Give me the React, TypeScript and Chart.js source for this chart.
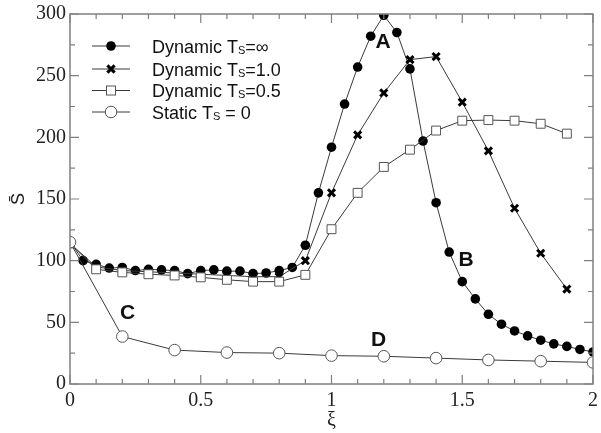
import React, { useEffect, useRef } from "react";
import { Chart, registerables } from "chart.js";

Chart.register(...registerables);

// Dynamic Ts = ∞ (filled circles)
const xInf = [0, 0.05, 0.1, 0.15, 0.2, 0.25, 0.3, 0.35, 0.4, 0.45, 0.5, 0.55, 0.6, 0.65, 0.7, 0.75, 0.8, 0.85, 0.9, 0.95, 1.0, 1.05, 1.1, 1.15, 1.2, 1.25, 1.3, 1.35, 1.4, 1.45, 1.5, 1.55, 1.6, 1.65, 1.7, 1.75, 1.8, 1.85, 1.9, 1.95, 2.0];
const yInf = [115.5, 100, 97, 94, 94.5, 92, 93, 92.5, 92, 89.5, 92, 92.5, 91.5, 91.5, 89.5, 90, 92, 94.5, 112.5, 155, 192, 227, 257, 282, 299, 285, 255.5, 197, 147, 107, 83, 69, 56.5, 48.5, 43, 39, 35.5, 32.5, 30.5, 28, 26];

// Dynamic Ts = 1.0 (crosses)
const x10 = [0, 0.1, 0.2, 0.3, 0.4, 0.5, 0.6, 0.7, 0.8, 0.9, 1.0, 1.1, 1.2, 1.3, 1.4, 1.5, 1.6, 1.7, 1.8, 1.9];
const y10 = [114, 95, 92, 91, 90, 89, 88, 87, 87, 100, 155, 202, 236, 263, 265.5, 228.5, 189, 142.5, 106, 77];

// Dynamic Ts = 0.5 (open squares)
const x05 = [0, 0.1, 0.2, 0.3, 0.4, 0.5, 0.6, 0.7, 0.8, 0.9, 1.0, 1.1, 1.2, 1.3, 1.4, 1.5, 1.6, 1.7, 1.8, 1.9];
const y05 = [114, 93, 90.5, 89, 88, 86.5, 84.5, 83, 83, 88.5, 125.5, 155, 176, 190, 205.5, 213.5, 214, 213.5, 211, 203];

// Static Ts = 0 (open circles)
const xStatic = [0, 0.2, 0.4, 0.6, 0.8, 1.0, 1.2, 1.4, 1.6, 1.8, 2.0];
const yStatic = [115, 38.5, 27.5, 25.5, 25, 23, 22.5, 21, 19.5, 18.5, 17.5];

const legendNames = ["Dynamic T", "Dynamic T", "Dynamic T", "Static T"];
const legendSuffix = ["=∞", "=1.0", "=0.5", " = 0"];

const annotations = [
  { text: "A", x: 1.197, y: 277 },
  { text: "B", x: 1.515, y: 100.5 },
  { text: "C", x: 0.22, y: 57.6 },
  { text: "D", x: 1.18, y: 35.7 },
];

const LINE = "#3a3a3a";
const FRAME = "#808080";
const SERIF = "'Liberation Serif', serif";
const SANS = "'Liberation Sans', Arial, sans-serif";

Chart.defaults.font.family = SERIF;
Chart.defaults.font.size = 20;
Chart.defaults.color = "#222";

const toPts = (xs: number[], ys: number[]) => xs.map((x, i) => ({ x, y: ys[i] }));

function drawMarker(ctx: CanvasRenderingContext2D, kind: string, x: number, y: number) {
  ctx.save();
  if (kind === "fcircle") {
    ctx.fillStyle = "#000";
    ctx.beginPath();
    ctx.arc(x, y, 4.8, 0, Math.PI * 2);
    ctx.fill();
  } else if (kind === "cross") {
    ctx.strokeStyle = "#000";
    ctx.lineWidth = 3;
    const r = 3.6;
    ctx.beginPath();
    ctx.moveTo(x - r, y - r);
    ctx.lineTo(x + r, y + r);
    ctx.moveTo(x + r, y - r);
    ctx.lineTo(x - r, y + r);
    ctx.stroke();
  } else if (kind === "square") {
    ctx.fillStyle = "#fff";
    ctx.strokeStyle = "#555";
    ctx.lineWidth = 1;
    ctx.fillRect(x - 4.5, y - 4.5, 9, 9);
    ctx.strokeRect(x - 4.5, y - 4.5, 9, 9);
  } else {
    ctx.fillStyle = "#fff";
    ctx.strokeStyle = "#555";
    ctx.lineWidth = 1;
    ctx.beginPath();
    ctx.arc(x, y, 5.8, 0, Math.PI * 2);
    ctx.fill();
    ctx.stroke();
  }
  ctx.restore();
}

const framePlugin = {
  id: "frameTicks",
  afterDatasetsDraw(chart: any) {
    const ctx = chart.ctx as CanvasRenderingContext2D;
    const { left, right, top, bottom } = chart.chartArea;
    const xs = chart.scales.x;
    const ys = chart.scales.y;
    ctx.save();
    ctx.strokeStyle = FRAME;
    ctx.lineWidth = 1.5;
    ctx.strokeRect(left, top, right - left, bottom - top);
    ctx.lineWidth = 1.2;
    ctx.beginPath();
    for (let i = 0; i <= 20; i++) {
      const v = i * 0.1;
      const px = xs.getPixelForValue(v);
      const len = i % 5 === 0 ? 9 : 5;
      ctx.moveTo(px, bottom);
      ctx.lineTo(px, bottom - len);
      ctx.moveTo(px, top);
      ctx.lineTo(px, top + len);
    }
    for (let i = 0; i <= 12; i++) {
      const v = i * 25;
      const py = ys.getPixelForValue(v);
      const len = i % 2 === 0 ? 9 : 5;
      ctx.moveTo(left, py);
      ctx.lineTo(left + len, py);
      ctx.moveTo(right, py);
      ctx.lineTo(right - len, py);
    }
    ctx.stroke();

    // annotations
    ctx.fillStyle = "#111";
    ctx.font = "bold 21px " + SANS;
    ctx.textAlign = "center";
    ctx.textBaseline = "middle";
    annotations.forEach((a) => {
      ctx.fillText(a.text, xs.getPixelForValue(a.x), ys.getPixelForValue(a.y));
    });

    // legend
    const kinds = ["fcircle", "cross", "square", "ocircle"];
    const lx0 = left + 22;
    const lx1 = left + 60;
    const tx = left + 82;
    const rowY = [top + 32, top + 55, top + 76.5, top + 98];
    ctx.textAlign = "left";
    ctx.textBaseline = "alphabetic";
    kinds.forEach((k, i) => {
      const y = rowY[i];
      ctx.strokeStyle = LINE;
      ctx.lineWidth = 1;
      ctx.beginPath();
      ctx.moveTo(lx0, y);
      ctx.lineTo(lx1, y);
      ctx.stroke();
      drawMarker(ctx, k, (lx0 + lx1) / 2, y);
      ctx.fillStyle = "#111";
      ctx.font = "18px " + SANS;
      const base = y + 6.5;
      ctx.fillText(legendNames[i], tx, base);
      let w = ctx.measureText(legendNames[i]).width;
      ctx.font = "11px " + SANS;
      ctx.fillText("S", tx + w, base + 1);
      w += ctx.measureText("S").width;
      ctx.font = "18px " + SANS;
      ctx.fillText(legendSuffix[i], tx + w, base);
    });
    ctx.restore();
  },
};

export default function App() {
  const ref = useRef<HTMLCanvasElement | null>(null);
  useEffect(() => {
    if (!ref.current) return;
    const common = { borderColor: LINE, borderWidth: 1, tension: 0, showLine: true };
    const chart = new Chart(ref.current, {
      type: "scatter",
      data: {
        datasets: [
          {
            ...common,
            label: "Static Ts = 0",
            data: toPts(xStatic, yStatic),
            pointStyle: "circle",
            pointRadius: 5.8,
            pointBackgroundColor: "#fff",
            pointBorderColor: "#555",
            pointBorderWidth: 1,
          },
          {
            ...common,
            label: "Dynamic Ts=0.5",
            data: toPts(x05, y05),
            pointStyle: "rect",
            pointRadius: 6.3,
            pointBackgroundColor: "#fff",
            pointBorderColor: "#555",
            pointBorderWidth: 1,
          },
          {
            ...common,
            label: "Dynamic Ts=1.0",
            data: toPts(x10, y10),
            pointStyle: "crossRot",
            pointRadius: 5,
            pointBorderColor: "#000",
            pointBorderWidth: 3,
          },
          {
            ...common,
            label: "Dynamic Ts=∞",
            data: toPts(xInf, yInf),
            pointStyle: "circle",
            pointRadius: 4.8,
            pointBackgroundColor: "#000",
            pointBorderColor: "#000",
            pointBorderWidth: 0,
          },
        ],
      },
      options: {
        animation: false,
        responsive: true,
        maintainAspectRatio: false,
        layout: { padding: { top: 14, right: 3, left: 0, bottom: 0 } },
        plugins: { legend: { display: false }, tooltip: { enabled: false } },
        scales: {
          x: {
            type: "linear",
            min: 0,
            max: 2,
            grid: { display: false, drawTicks: false },
            border: { display: false },
            ticks: {
              stepSize: 0.5,
              padding: 5,
              color: "#222",
              font: { family: SERIF, size: 20 },
              callback: (v: any) => String(Number(v)),
            },
            title: {
              display: true,
              text: "ξ",
              color: "#222",
              padding: { top: 0, bottom: 0 },
              font: { family: SERIF, size: 20 },
            },
            afterFit: (s: any) => {
              s.height = 49;
              s.paddingRight = 0;
              s.paddingLeft = 0;
            },
          },
          y: {
            type: "linear",
            min: 0,
            max: 300,
            grid: { display: false, drawTicks: false },
            border: { display: false },
            ticks: {
              stepSize: 50,
              padding: 4,
              color: "#222",
              font: { family: SERIF, size: 20 },
            },
            title: {
              display: true,
              text: "S\u0304",
              color: "#222",
              padding: { top: 8, bottom: 0 },
              font: { family: SANS, size: 18 },
            },
            afterFit: (s: any) => {
              s.width = 70;
              s.paddingTop = 0;
              s.paddingBottom = 0;
            },
          },
        },
      },
      plugins: [framePlugin],
    } as any);
    return () => chart.destroy();
  }, []);
  return (
    <div style={{ position: "fixed", left: 0, top: 0, width: 601, height: 433, background: "#fff" }}>
      <canvas ref={ref} />
    </div>
  );
}
